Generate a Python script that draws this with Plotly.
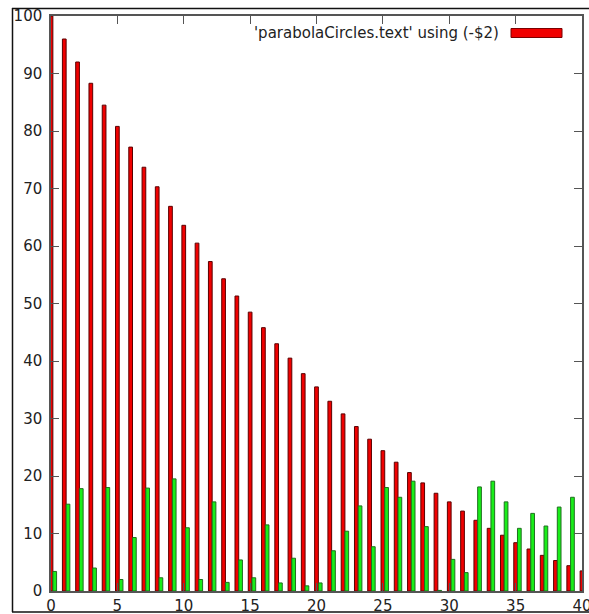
import plotly.graph_objects as go

# ---- data ----
x_red = list(range(0, 41))
red_values = [100, 96.0, 92.0, 88.3, 84.5, 80.8, 77.2, 73.7, 70.3, 66.9,
              63.6, 60.5, 57.3, 54.3, 51.3, 48.5, 45.8, 43.0, 40.5, 37.8,
              35.5, 33.0, 30.8, 28.6, 26.4, 24.4, 22.4, 20.6, 18.8, 17.0,
              15.5, 13.9, 12.3, 10.9, 9.7, 8.4, 7.3, 6.2, 5.3, 4.4, 3.5]
x_green = list(range(0, 40))
green_values = [3.4, 15.1, 17.8, 4.0, 18.0, 2.0, 9.3, 17.9, 2.3, 19.5,
                11.0, 2.0, 15.5, 1.5, 5.4, 2.3, 11.5, 1.4, 5.7, 0.9,
                1.4, 7.0, 10.4, 14.8, 7.7, 18.0, 16.3, 19.1, 11.2, 0.1,
                5.5, 3.2, 18.1, 19.1, 15.5, 10.9, 13.5, 11.3, 14.6, 16.3]
legend_label = "'parabolaCircles.text' using (-$2)"
x_ticks = [0, 5, 10, 15, 20, 25, 30, 35, 40]
y_ticks = [0, 10, 20, 30, 40, 50, 60, 70, 80, 90, 100]

FONT = "DejaVu Sans"
BAR_W = 0.28

fig = go.Figure()
fig.add_trace(go.Bar(
    x=x_red, y=red_values, width=BAR_W, offset=-BAR_W / 2,
    marker=dict(color="#f00000", line=dict(color="#5a0000", width=1)),
    name=legend_label, showlegend=False,
))
fig.add_trace(go.Bar(
    x=x_green, y=green_values, width=BAR_W, offset=BAR_W / 2,
    marker=dict(color="#19ee19", line=dict(color="#1f6f1f", width=1)),
    name="", showlegend=False,
))

W, H = 589, 614
# plot area on screen: x 51..582, y 16..591
PL, PR, PT, PB = 51, 582, 16, 591
L, R, T, B = PL, W - PR, PT, H - PB
pw, ph = PR - PL, PB - PT

def px_x(p):  # screen px -> paper x
    return (p - PL) / pw

def px_y(p):  # screen px -> paper y
    return (PB - p) / ph

axis_common = dict(
    showline=True, linecolor="#555555", linewidth=1.5, mirror="ticks",
    ticks="inside", ticklen=8, tickwidth=1.2, tickcolor="#555555",
    showgrid=False, zeroline=False, automargin=False,
    ticklabeloverflow="allow",
    tickfont=dict(family=FONT, size=15, color="#222222"),
)

fig.update_layout(
    template="none",
    width=W, height=H,
    margin=dict(l=L, r=R, t=T, b=B, autoexpand=False),
    paper_bgcolor="white", plot_bgcolor="white",
    barmode="overlay",
    xaxis=dict(range=[0, 40], tickvals=x_ticks, ticktext=[str(v) for v in x_ticks],
               **axis_common),
    yaxis=dict(range=[0, 100], tickvals=y_ticks, ticktext=[str(v) for v in y_ticks],
               ticklabelstandoff=4, **axis_common),
    showlegend=False,
)

# custom legend entry (gnuplot style: text then long colour swatch)
fig.add_annotation(
    x=px_x(501), y=px_y(33), xref="paper", yref="paper",
    text=legend_label, showarrow=False, xanchor="right", yanchor="middle",
    font=dict(family=FONT, size=15, color="#222222"),
)
fig.add_shape(type="rect", xref="paper", yref="paper",
              x0=px_x(511), x1=px_x(562), y0=px_y(37.5), y1=px_y(28.5),
              fillcolor="#f00000", line=dict(color="#7a0000", width=1))

# outer window frame
fig.add_shape(type="rect", xref="paper", yref="paper", layer="above",
              x0=px_x(0), x1=px_x(W + 5), y0=px_y(H + 5), y1=px_y(612),
              fillcolor="white", line=dict(width=0))
fig.add_shape(type="line", xref="paper", yref="paper", layer="above",
              x0=px_x(12), x1=px_x(W + 5), y0=px_y(612), y1=px_y(612),
              line=dict(color="#111111", width=1.5))
fig.add_shape(type="line", xref="paper", yref="paper", layer="above",
              x0=px_x(12), x1=px_x(W + 5), y0=px_y(8.5), y1=px_y(8.5),
              line=dict(color="#111111", width=1.5))
fig.add_shape(type="line", xref="paper", yref="paper", layer="above",
              x0=px_x(12.5), x1=px_x(12.5), y0=px_y(8), y1=px_y(612),
              line=dict(color="#111111", width=1.5))

fig.write_html(
    "out.html",
    config={"displayModeBar": False},
    post_script="document.body.style.margin='0';"
                "document.documentElement.style.overflow='hidden';",
)
